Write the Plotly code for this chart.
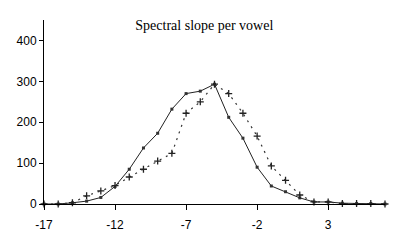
import plotly.graph_objects as go

x_vals = list(range(-17, 8))
solid_vals = [0, 0, 3, 7, 16, 43, 85, 137, 173, 232, 270, 276, 293, 212, 161, 90, 44, 30, 15, 5, 5, 2, 1, 1, 0]
dashed_vals = [0, 0, 3, 20, 32, 45, 66, 85, 105, 124, 222, 250, 293, 270, 222, 166, 93, 58, 22, 5, 5, 1, 1, 1, 0]
y_ticks = [0, 100, 200, 300, 400]
x_ticks = [-17, -12, -7, -2, 3]
title_text = "Spectral slope per vowel"

fig = go.Figure()
fig.add_trace(go.Scatter(
    x=x_vals, y=solid_vals, mode="lines+markers",
    line=dict(color="#222222", width=1),
    marker=dict(symbol="square", size=3, color="#333333"),
    showlegend=False, cliponaxis=False))
fig.add_trace(go.Scatter(
    x=x_vals, y=dashed_vals, mode="lines+markers",
    line=dict(color="#333333", width=1.2, dash="2px,5px"),
    marker=dict(symbol="cross-thin", size=5, line=dict(color="#222222", width=1.3)),
    showlegend=False, cliponaxis=False))

fig.update_layout(
    width=417, height=248,
    margin=dict(l=44, r=32, t=20, b=44),
    paper_bgcolor="white", plot_bgcolor="white",
    title=dict(text=title_text, x=0.49, xanchor="center", y=0.9, yanchor="middle",
               font=dict(family="Liberation Serif", size=14, color="black")),
    font=dict(family="Liberation Sans", size=12, color="black"),
)
fig.update_xaxes(range=[-17, 7], tickmode="array", tickvals=x_ticks,
                 ticktext=[str(v) for v in x_ticks],
                 showgrid=False, zeroline=False, showline=True, linecolor="black", linewidth=1,
                 ticks="outside", ticklen=5, tickcolor="black", ticklabelstandoff=5)
fig.update_yaxes(range=[0, 450], tickmode="array", tickvals=y_ticks,
                 ticktext=[str(v) for v in y_ticks],
                 showgrid=False, zeroline=False, showline=True, linecolor="black", linewidth=1,
                 ticks="outside", ticklen=4, tickcolor="black")

fig.write_html("out.html")
